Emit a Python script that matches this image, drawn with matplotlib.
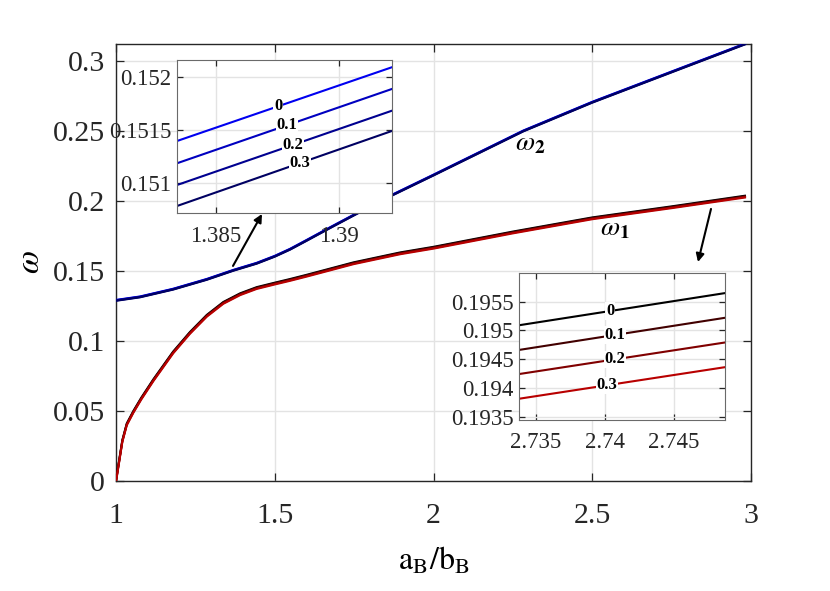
import numpy as np
import matplotlib
matplotlib.use("Agg")
import matplotlib.pyplot as plt
from matplotlib.ticker import FuncFormatter

plt.rcParams['font.family'] = ['Liberation Serif', 'DejaVu Serif']
plt.rcParams['mathtext.fontset'] = 'stix'

# ---------------- data ----------------
alphas = [0, 0.1, 0.2, 0.3]
alpha_labels = ['0', '0.1', '0.2', '0.3']

# omega_1 branch (main plot)
x1 = [1.0, 1.02, 1.034, 1.055, 1.08, 1.118, 1.18, 1.233, 1.286, 1.338, 1.391,
      1.443, 1.5, 1.548, 1.6, 1.748, 1.895, 2.0, 2.25, 2.5, 2.75, 2.981]
w1 = [0.0, 0.0286, 0.0405, 0.0495, 0.0590, 0.0721, 0.0918, 0.1058, 0.1180, 0.1272,
      0.1334, 0.1378, 0.1410, 0.1436, 0.1466, 0.1555, 0.1626, 0.1666, 0.1775,
      0.1876, 0.1955, 0.2031]
# omega_2 branch (main plot)
x2 = [1.0, 1.076, 1.18, 1.233, 1.286, 1.37, 1.443, 1.5, 1.548, 1.6, 1.675,
      1.748, 1.868, 2.0, 2.283, 2.5, 2.776, 2.981]
w2 = [0.129, 0.1315, 0.1370, 0.1405, 0.1440, 0.1505, 0.1555, 0.1605, 0.1655,
      0.1718, 0.1810, 0.1898, 0.2040, 0.2185, 0.2500, 0.2705, 0.2944, 0.3121]
# small shifts between the alpha curves
shift1 = [0.00064, 0.00021, -0.00021, -0.00064]
shift2 = [0.0003, 0.0001, -0.0001, -0.0003]

# inset 1 (omega_2 zoom)
ins1_x = [1.38341, 1.39215]
ins1_w = [[0.151396, 0.152092],
          [0.151186, 0.151887],
          [0.150981, 0.151682],
          [0.150783, 0.151491]]
ins1_label_x = [1.38752, 1.38788, 1.38813, 1.38841]

# inset 2 (omega_1 zoom)
ins2_x = [2.73377, 2.74870]
ins2_w = [[0.19509, 0.19565],
          [0.19466, 0.19522],
          [0.19424, 0.19479],
          [0.19381, 0.19436]]
ins2_label_x = [2.74037, 2.74073, 2.74073, 2.74015]

blues = ['#0000f0', '#0000c0', '#000090', '#000062']
reds = ['#000000', '#420000', '#800000', '#b80000']

main_xticks = [1, 1.5, 2, 2.5, 3]
main_yticks = [0, 0.05, 0.1, 0.15, 0.2, 0.25, 0.3]
ins1_xticks = [1.385, 1.39]
ins1_yticks = [0.151, 0.1515, 0.152]
ins2_xticks = [2.735, 2.74, 2.745]
ins2_yticks = [0.1935, 0.194, 0.1945, 0.195, 0.1955]

# ---------------- figure ----------------
fig = plt.figure(figsize=(8.3, 5.91), dpi=100)
ax = fig.add_axes([116/830, 1-481/591, 635/830, 437/591])

TC = '#262626'
fmt = FuncFormatter(lambda v, _: f'{v:g}')


def style(a, fs, length, pad_x, pad_y):
    a.grid(True, color='#e3e3e3', lw=1.0)
    a.set_axisbelow(True)
    for s in a.spines.values():
        s.set_color(TC)
        s.set_linewidth(1.0)
    a.tick_params(direction='in', top=True, right=True, length=length, width=0.9,
                  color=TC, labelcolor=TC, labelsize=fs)
    a.tick_params(axis='x', pad=pad_x)
    a.tick_params(axis='y', pad=pad_y)
    a.xaxis.set_major_formatter(fmt)
    a.yaxis.set_major_formatter(fmt)


for i, a in enumerate(alphas):
    ax.plot(x2, np.array(w2) + shift2[i], color=blues[i], lw=1.5, zorder=3)
for i, a in enumerate(alphas):
    ax.plot(x1, np.array(w1) + shift1[i], color=reds[i], lw=1.5, zorder=3)

ax.set_xlim(1, 3)
ax.set_ylim(0, 0.3121)
ax.set_xticks(main_xticks)
ax.set_yticks(main_yticks)
style(ax, 21.5, 6, 16, 8)

ax.text(2.2567, 0.2364, r'$\omega_{\mathbf{2}}$', fontsize=20, ha='left', va='baseline')
ax.text(2.524, 0.1757, r'$\omega_{\mathbf{1}}$', fontsize=20, ha='left', va='baseline')

arrow = dict(arrowstyle='-|>', color='k', lw=1.5, mutation_scale=12, shrinkA=0, shrinkB=0)
ax.annotate('', xy=(1.4598, 0.1907), xytext=(1.3685, 0.1536), arrowprops=arrow, zorder=5)
ax.annotate('', xy=(2.833, 0.1564), xytext=(2.874, 0.1943), arrowprops=arrow, zorder=5)

fig.text(31/830, 1-262/591, r'$\omega$', fontsize=24, rotation=90, ha='center', va='center')
fig.text(434/830, 1-561/591, r'$\mathrm{a_B/b_B}$', fontsize=23, ha='center', va='center')

# inset 1
ax1 = fig.add_axes([177/830, 1-213/591, 215/830, 153/591])
for i in range(4):
    ax1.plot(ins1_x, ins1_w[i], color=blues[i], lw=1.5)
    ly = np.interp(ins1_label_x[i], ins1_x, ins1_w[i])
    ax1.text(ins1_label_x[i], ly, alpha_labels[i], fontsize=12, fontweight='bold',
             ha='center', va='center',
             bbox=dict(facecolor='white', edgecolor='none', pad=0.5))
ax1.set_xlim(ins1_x)
ax1.set_ylim(0.150717, 0.15216)
ax1.set_xticks(ins1_xticks)
ax1.set_yticks(ins1_yticks)
style(ax1, 16.5, 4, 9, 4)
for s in ax1.spines.values():
    s.set_color('#6a6a6a')
    s.set_linewidth(0.8)

# inset 2
ax2 = fig.add_axes([519/830, 1-420/591, 206/830, 147/591])
for i in range(4):
    ax2.plot(ins2_x, ins2_w[i], color=reds[i], lw=1.5)
    ly = np.interp(ins2_label_x[i], ins2_x, ins2_w[i])
    ax2.text(ins2_label_x[i], ly, alpha_labels[i], fontsize=12, fontweight='bold',
             ha='center', va='center',
             bbox=dict(facecolor='white', edgecolor='none', pad=0.5))
ax2.set_xlim(ins2_x)
ax2.set_ylim(0.19344, 0.19600)
ax2.set_xticks(ins2_xticks)
ax2.set_yticks(ins2_yticks)
style(ax2, 16.5, 4, 9, 4)
for s in ax2.spines.values():
    s.set_color('#6a6a6a')
    s.set_linewidth(0.8)

fig.savefig('out.png', dpi=100)
